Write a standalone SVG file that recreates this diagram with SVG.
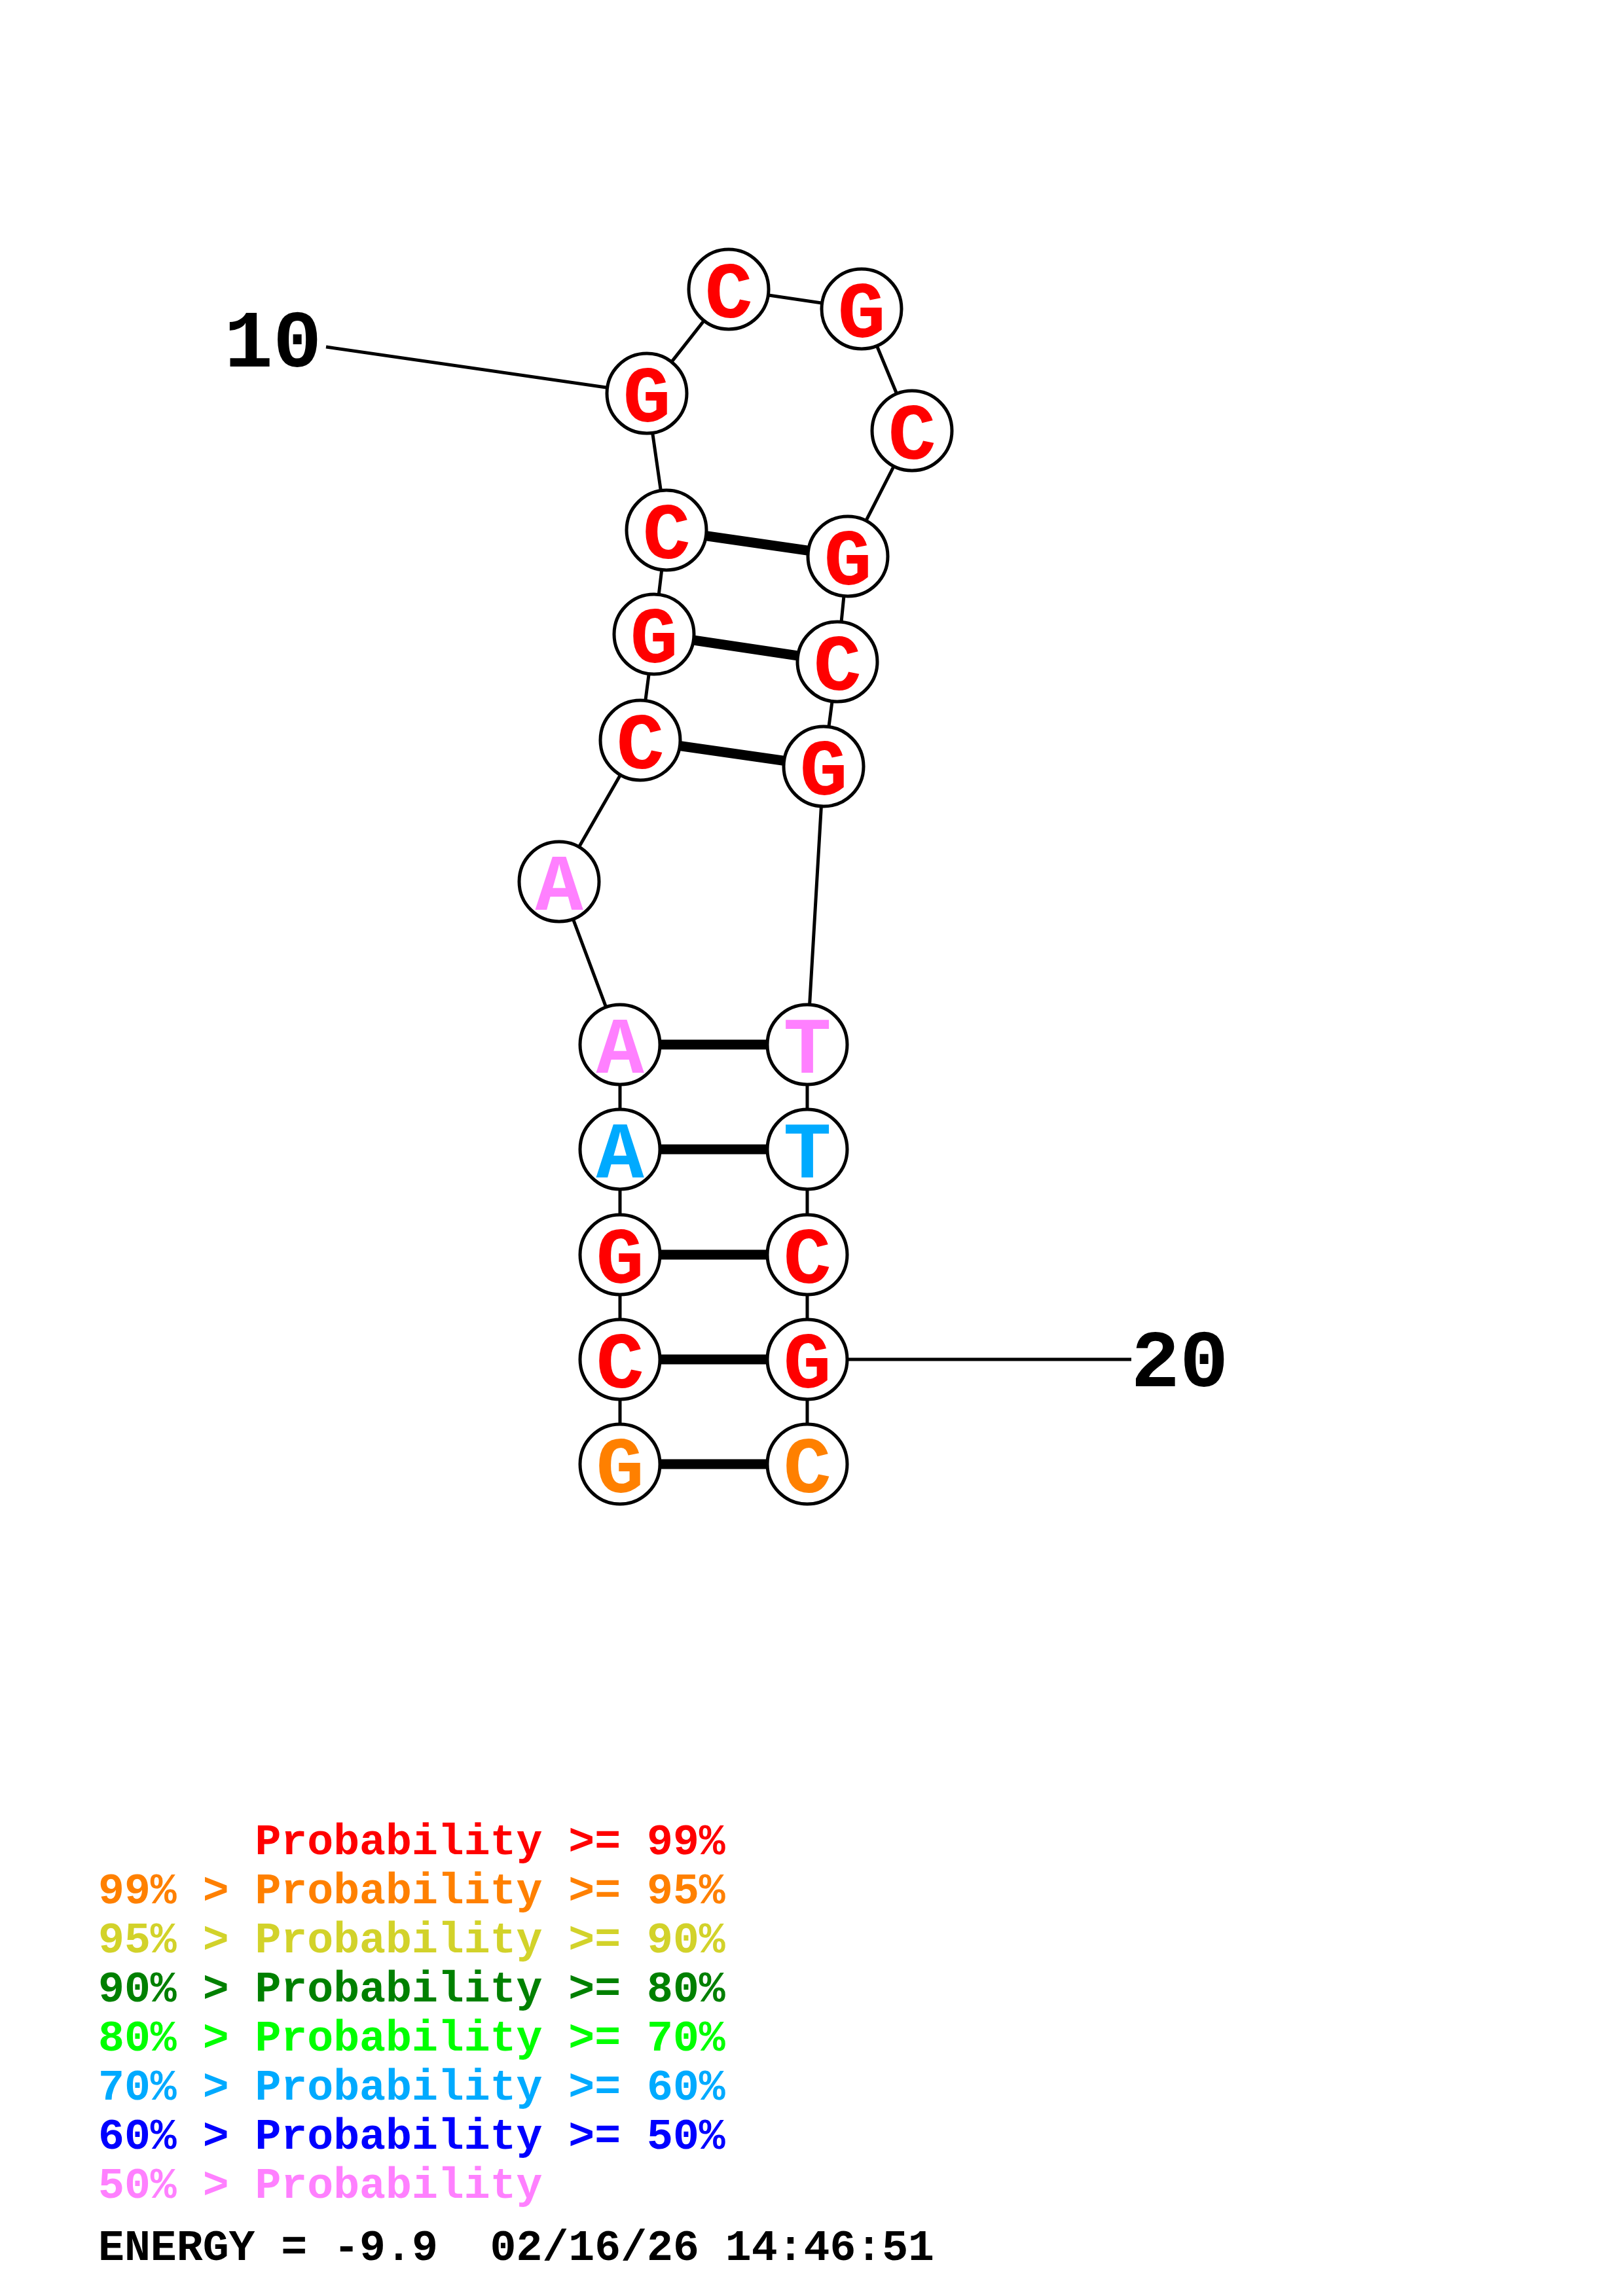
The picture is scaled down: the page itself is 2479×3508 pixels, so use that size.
<svg xmlns="http://www.w3.org/2000/svg" width="2479" height="3508" viewBox="0 0 2479 3508">
<style>
.bb{stroke:#000;stroke-width:5;fill:none}
.bp{stroke:#000;stroke-width:15;fill:none}
.nc{fill:#fff;stroke:#000;stroke-width:5}
.nt{font-family:"Liberation Mono","Courier New",monospace;font-weight:bold;font-size:122px;text-anchor:middle}
.num{font-family:"Liberation Mono","Courier New",monospace;font-weight:bold;font-size:124px;text-anchor:middle;fill:#000}
.lg{font-family:"Liberation Mono","Courier New",monospace;font-weight:bold;font-size:66.5px;white-space:pre}
.r{fill:#ff0000}.o{fill:#ff8000}.y{fill:#d2d22a}.dg{fill:#008000}.lg2{fill:#00ff00}.lb{fill:#00aaff}.b{fill:#0000ff}.p{fill:#ff80ff}.k{fill:#000}
</style>
<rect width="2479" height="3508" fill="#fff"/>
<g id="connectors">
<polyline class="bb" points="947,2237 947,2077 947,1917 947,1756 947,1596 854,1347 978,1131 999,969 1018,810 988,601 1113,442 1316,472 1393,658 1295,850 1279,1011 1258,1171 1233,1596 1233,1756 1233,1917 1233,2077 1233,2237"/>
<line class="bp" x1="947" y1="2237" x2="1233" y2="2237"/>
<line class="bp" x1="947" y1="2077" x2="1233" y2="2077"/>
<line class="bp" x1="947" y1="1917" x2="1233" y2="1917"/>
<line class="bp" x1="947" y1="1756" x2="1233" y2="1756"/>
<line class="bp" x1="947" y1="1596" x2="1233" y2="1596"/>
<line class="bp" x1="978" y1="1131" x2="1258" y2="1171"/>
<line class="bp" x1="999" y1="969" x2="1279" y2="1011"/>
<line class="bp" x1="1018" y1="810" x2="1295" y2="850"/>
<line class="bb" x1="498" y1="530" x2="988" y2="601"/>
<line class="bb" x1="1233" y1="2077" x2="1728" y2="2077"/>
</g>
<g id="n1"><circle class="nc" cx="947" cy="2237" r="61"/><text class="nt o" x="947" y="2280">G</text></g>
<g id="n2"><circle class="nc" cx="947" cy="2077" r="61"/><text class="nt r" x="947" y="2120">C</text></g>
<g id="n3"><circle class="nc" cx="947" cy="1917" r="61"/><text class="nt r" x="947" y="1960">G</text></g>
<g id="n4"><circle class="nc" cx="947" cy="1756" r="61"/><text class="nt lb" x="947" y="1799">A</text></g>
<g id="n5"><circle class="nc" cx="947" cy="1596" r="61"/><text class="nt p" x="947" y="1639">A</text></g>
<g id="n6"><circle class="nc" cx="854" cy="1347" r="61"/><text class="nt p" x="854" y="1390">A</text></g>
<g id="n7"><circle class="nc" cx="978" cy="1131" r="61"/><text class="nt r" x="978" y="1174">C</text></g>
<g id="n8"><circle class="nc" cx="999" cy="969" r="61"/><text class="nt r" x="999" y="1012">G</text></g>
<g id="n9"><circle class="nc" cx="1018" cy="810" r="61"/><text class="nt r" x="1018" y="853">C</text></g>
<g id="n10"><circle class="nc" cx="988" cy="601" r="61"/><text class="nt r" x="988" y="644">G</text></g>
<g id="n11"><circle class="nc" cx="1113" cy="442" r="61"/><text class="nt r" x="1113" y="485">C</text></g>
<g id="n12"><circle class="nc" cx="1316" cy="472" r="61"/><text class="nt r" x="1316" y="515">G</text></g>
<g id="n13"><circle class="nc" cx="1393" cy="658" r="61"/><text class="nt r" x="1393" y="701">C</text></g>
<g id="n14"><circle class="nc" cx="1295" cy="850" r="61"/><text class="nt r" x="1295" y="893">G</text></g>
<g id="n15"><circle class="nc" cx="1279" cy="1011" r="61"/><text class="nt r" x="1279" y="1054">C</text></g>
<g id="n16"><circle class="nc" cx="1258" cy="1171" r="61"/><text class="nt r" x="1258" y="1214">G</text></g>
<g id="n17"><circle class="nc" cx="1233" cy="1596" r="61"/><text class="nt p" x="1233" y="1639">T</text></g>
<g id="n18"><circle class="nc" cx="1233" cy="1756" r="61"/><text class="nt lb" x="1233" y="1799">T</text></g>
<g id="n19"><circle class="nc" cx="1233" cy="1917" r="61"/><text class="nt r" x="1233" y="1960">C</text></g>
<g id="n20"><circle class="nc" cx="1233" cy="2077" r="61"/><text class="nt r" x="1233" y="2120">G</text></g>
<g id="n21"><circle class="nc" cx="1233" cy="2237" r="61"/><text class="nt o" x="1233" y="2280">C</text></g>
<g id="labels">
<text class="num" x="417" y="560">10</text>
<text class="num" x="1802" y="2118">20</text>
</g>
<g id="legend">
<text class="lg r" x="150" y="2833">      Probability &gt;= 99%</text>
<text class="lg o" x="150" y="2908">99% &gt; Probability &gt;= 95%</text>
<text class="lg y" x="150" y="2983">95% &gt; Probability &gt;= 90%</text>
<text class="lg dg" x="150" y="3058">90% &gt; Probability &gt;= 80%</text>
<text class="lg lg2" x="150" y="3133">80% &gt; Probability &gt;= 70%</text>
<text class="lg lb" x="150" y="3208">70% &gt; Probability &gt;= 60%</text>
<text class="lg b" x="150" y="3283">60% &gt; Probability &gt;= 50%</text>
<text class="lg p" x="150" y="3358">50% &gt; Probability</text>
<text class="lg k" x="150" y="3453">ENERGY = -9.9  02/16/26 14:46:51</text>
</g>
</svg>
